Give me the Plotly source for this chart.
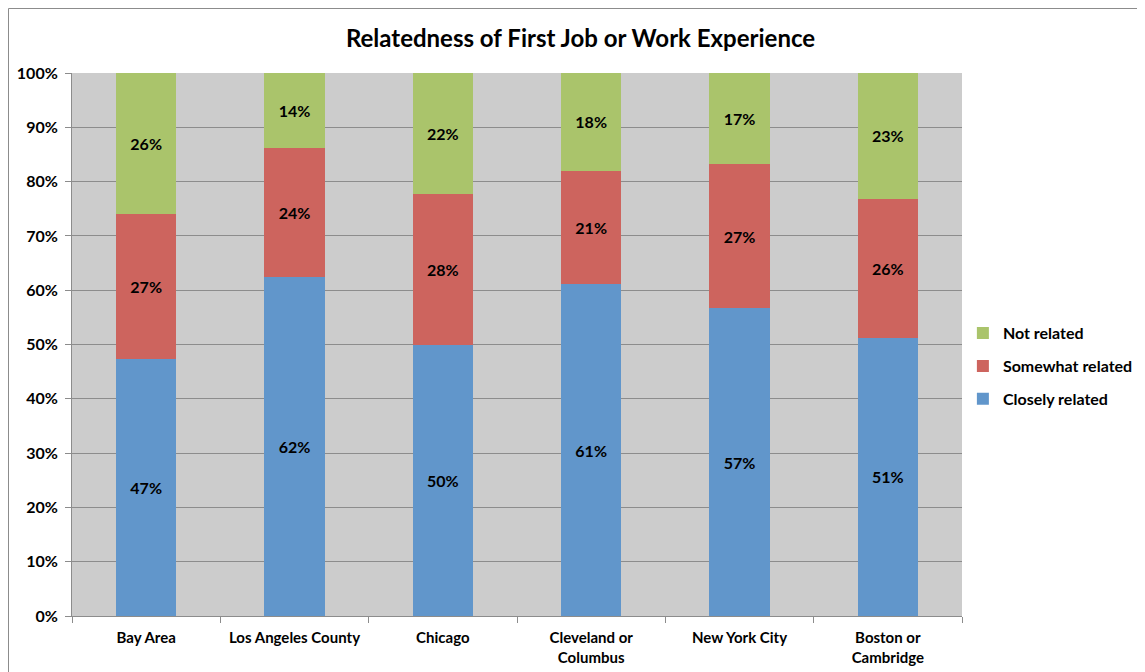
import plotly.graph_objects as go

regions = ["Bay Area", "Los Angeles County", "Chicago", "Cleveland or<br>Columbus",
           "New York City", "Boston or<br>Cambridge"]
closely = [47.3, 62.4, 49.9, 61.1, 56.7, 51.2]
somewhat = [26.7, 23.8, 27.8, 20.9, 26.5, 25.6]
not_related = [26.0, 13.8, 22.3, 18.0, 16.8, 23.2]

FONT = "Lato"

fig = go.Figure()
for rank, (name, vals, color) in enumerate([("Closely related", closely, "#6196CB"),
                                            ("Somewhat related", somewhat, "#CD645E"),
                                            ("Not related", not_related, "#AAC46B")]):
    fig.add_trace(go.Bar(x=regions, y=vals, name=name, marker_color=color,
                         marker_line_width=0, legendgroup=name, legendrank=10 - rank,
                         texttemplate="%{y:.0f}%", textposition="inside",
                         insidetextanchor="middle",
                         textfont=dict(family=FONT, size=16, color="black", weight="bold")))

# page body has an 8px margin, so the figure is offset by 8px
fig.update_layout(
    barmode="stack", bargap=0.595,
    width=1145, height=672,
    margin=dict(l=64, r=191, t=65, b=64, autoexpand=False),
    paper_bgcolor="white", plot_bgcolor="#CCCCCC",
    font=dict(family=FONT, size=16, color="black", weight="bold"),
    title=dict(text="Relatedness of First Job or Work Experience",
               x=0.5, xref="container", xanchor="center", y=1 - 31 / 672, yanchor="middle",
               font=dict(size=24, family=FONT, weight="bold")),
    legend=dict(traceorder="grouped", x=1.001, xanchor="left", y=0.46, yanchor="middle",
                font=dict(size=16, family=FONT, weight="bold"), itemsizing="constant",
                tracegroupgap=9, itemwidth=30, bgcolor="rgba(0,0,0,0)"),
    uniformtext=dict(minsize=10, mode="show"),
    shapes=[dict(type="rect", xref="paper", yref="paper",
                 x0=-63.5 / 890, x1=1.3, y0=-0.2, y1=1 + 64.5 / 543,
                 line=dict(color="#8C8C8C", width=1), layer="below")],
)
fig.update_xaxes(tickson="boundaries", ticks="outside", ticklen=6, tickcolor="#8C8C8C",
                 showline=True, linecolor="#8C8C8C", showgrid=False, tickangle=0,
                 automargin=False, ticklabelstandoff=8,
                 tickfont=dict(size=15, family=FONT, weight="bold"))
fig.update_yaxes(range=[0, 100], dtick=10, ticksuffix="%",
                 showgrid=True, gridcolor="#8C8C8C", gridwidth=1, automargin=False,
                 ticks="outside", ticklen=6, tickcolor="#8C8C8C", ticklabelstandoff=4,
                 showline=True, linecolor="#8C8C8C", zeroline=False,
                 tickfont=dict(size=16, family=FONT, weight="bold"))

fig.write_html("out.html")
